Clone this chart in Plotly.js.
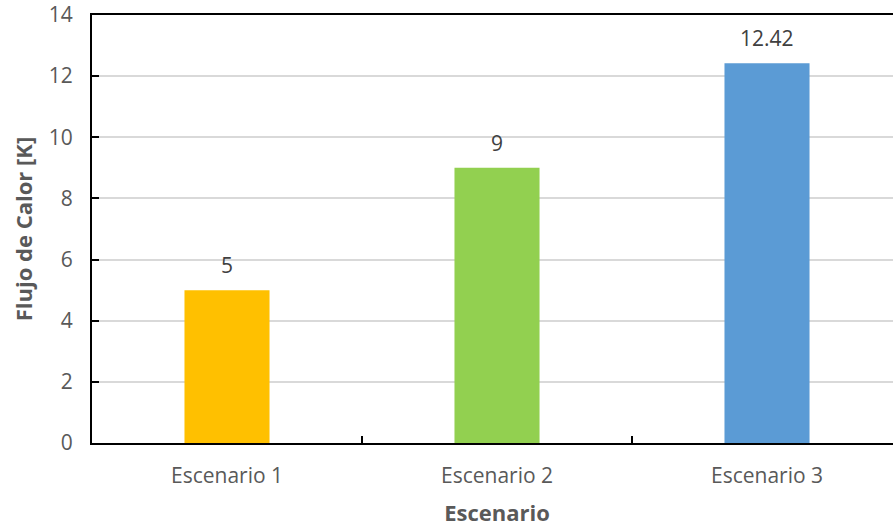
<!DOCTYPE html>
<html>
<head>
<meta charset="utf-8">
<script src="https://cdn.plot.ly/plotly-3.0.1.min.js"></script>
<style>
  html, body { margin: 0; padding: 0; background: #ffffff; overflow: hidden; }
  #chart { width: 910px; height: 527px; }
</style>
</head>
<body>
<div id="chart"></div>
<script>
// Heat flow per scenario
const escenarios = ['Escenario 1', 'Escenario 2', 'Escenario 3'];
const flujoCalor = [5, 9, 12.42];
const etiquetas = ['5', '9', '12.42'];
const colores = ['#FFC000', '#92D050', '#5B9BD5'];

const FONT = '"Open Sans", "Liberation Sans", sans-serif';

const trace = {
  type: 'bar',
  x: escenarios,
  y: flujoCalor,
  marker: { color: colores, line: { width: 0 } },
  hoverinfo: 'none'
};

// Value labels above each bar
const annotations = escenarios.map((c, i) => ({
  x: c,
  y: flujoCalor[i],
  text: etiquetas[i],
  showarrow: false,
  xanchor: 'center',
  yanchor: 'bottom',
  yshift: 9,
  font: { family: FONT, size: 21, color: '#404040' }
}));

const layout = {
  width: 910,
  height: 527,
  margin: { l: 92, r: 8, t: 15, b: 84 },
  paper_bgcolor: '#ffffff',
  plot_bgcolor: '#ffffff',
  bargap: 0.685,
  showlegend: false,
  font: { family: FONT, size: 21, color: '#595959' },
  xaxis: {
    type: 'category',
    range: [-0.5, 2.5],
    showline: true,
    linecolor: '#000000',
    linewidth: 2,
    mirror: true,
    showgrid: false,
    zeroline: false,
    ticks: 'inside',
    tickson: 'boundaries',
    ticklen: 7,
    tickwidth: 2,
    tickcolor: '#000000',
    ticklabelstandoff: 13,
    tickfont: { family: FONT, size: 21, color: '#595959' },
    title: {
      text: 'Escenario',
      font: { family: FONT, size: 22, color: '#595959', weight: 'bold' },
      standoff: 18
    }
  },
  yaxis: {
    range: [0, 14],
    dtick: 2,
    tick0: 0,
    showline: true,
    linecolor: '#000000',
    linewidth: 2,
    mirror: true,
    showgrid: true,
    gridcolor: '#d9d9d9',
    gridwidth: 2,
    zeroline: false,
    ticks: 'inside',
    ticklen: 7,
    tickwidth: 2,
    tickcolor: '#000000',
    ticklabelstandoff: 13,
    tickfont: { family: FONT, size: 21, color: '#595959' },
    title: {
      text: 'Flujo de Calor [K]',
      font: { family: FONT, size: 22, color: '#595959', weight: 'bold' },
      standoff: 10
    }
  },
  annotations: annotations
};

Plotly.newPlot('chart', [trace], layout, { staticPlot: true, displayModeBar: false });
</script>
</body>
</html>
